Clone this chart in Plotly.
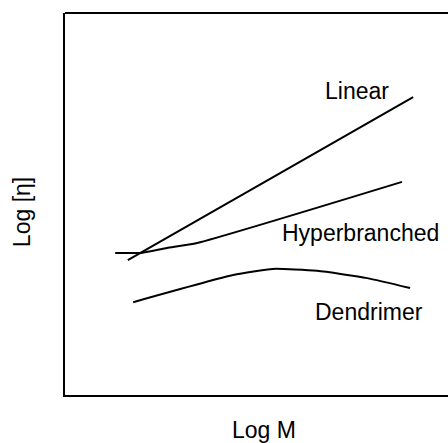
import plotly.graph_objects as go

# Schematic curves (arbitrary units, 0-10 scale)
linear_x = [1.64, 9.09]
linear_y = [3.53, 7.80]

hyper_x = [1.31, 1.96, 2.66, 3.45, 8.80]
hyper_y = [3.72, 3.72, 3.85, 3.98, 5.58]

dend_x = [1.78, 4.39, 5.43, 6.58, 7.89, 9.01]
dend_y = [2.43, 3.14, 3.30, 3.25, 3.06, 2.80]

labels = ["Linear", "Hyperbranched", "Dendrimer"]
label_x = [7.63, 5.61, 7.94]
label_y = [7.96, 4.24, 2.17]
label_anchor = ["center", "left", "center"]

x_title = "Log M"
y_title = "Log [η]"

FONT = "Liberation Sans, Arial, Helvetica, sans-serif"
FS = 23

fig = go.Figure()
line_style = dict(color="black", width=2)
for xs, ys, nm in [(linear_x, linear_y, "Linear"),
                   (hyper_x, hyper_y, "Hyperbranched"),
                   (dend_x, dend_y, "Dendrimer")]:
    fig.add_trace(go.Scatter(x=xs, y=ys, mode="lines", name=nm,
                             line=dict(**line_style, shape="spline", smoothing=0.5),
                             showlegend=False, hoverinfo="skip"))

for t, x, y, a in zip(labels, label_x, label_y, label_anchor):
    fig.add_annotation(x=x, y=y, text=t, showarrow=False, xanchor=a, yanchor="middle",
                       font=dict(family=FONT, size=FS, color="black"))

# axis titles as annotations (paper coords)
fig.add_annotation(xref="paper", yref="paper", x=0.52, y=-0.092, text=x_title,
                   showarrow=False, xanchor="center", yanchor="middle",
                   font=dict(family=FONT, size=FS, color="black"))
fig.add_annotation(xref="paper", yref="paper", x=-0.112, y=0.479, text=y_title,
                   showarrow=False, xanchor="center", yanchor="middle", textangle=-90,
                   font=dict(family=FONT, size=FS, color="black"))

fig.update_xaxes(range=[0, 10], showgrid=False, zeroline=False, showticklabels=False,
                 ticks="", showline=True, linecolor="black", linewidth=2)
fig.update_yaxes(range=[0, 10], showgrid=False, zeroline=False, showticklabels=False,
                 ticks="", showline=True, linecolor="black", linewidth=2)

# top border line
fig.add_shape(type="line", xref="paper", yref="paper", x0=0, x1=1, y0=1, y1=1,
              line=dict(color="black", width=2))

fig.update_layout(width=448, height=443, margin=dict(l=65, r=0, t=13, b=48),
                  paper_bgcolor="white", plot_bgcolor="white")

fig.write_html("out.html", config={"displayModeBar": False},
               post_script="document.body.style.margin='0px';document.body.style.overflow='hidden';")
